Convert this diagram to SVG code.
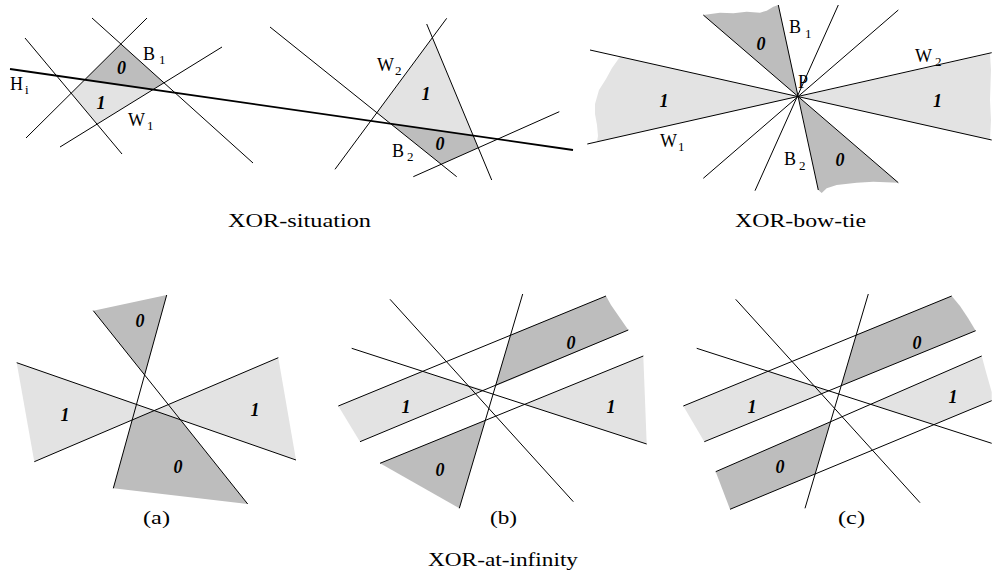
<svg xmlns="http://www.w3.org/2000/svg" width="992" height="580" viewBox="0 0 992 580">
<style>
.ln{stroke:#000;stroke-width:1;fill:none}
.hl{stroke:#000;stroke-width:1.8;fill:none}
.lt{fill:#e3e3e3}
.dk{fill:#bdbdbd}
.lb{font-family:"Liberation Serif","Times New Roman",serif;font-size:18px;fill:#000}
.sb{font-size:13px}
.num{font-family:"Liberation Serif","Times New Roman",serif;font-size:18px;font-weight:bold;font-style:italic;text-anchor:middle;fill:#000}
.cap{font-family:"Liberation Serif","Times New Roman",serif;font-size:19px;fill:#000}
</style>
<rect width="992" height="580" fill="#fff"/>

<g id="xor-situation">
  <g id="regions-situation">
    <polygon class="dk" points="120.8,43.9 164,82.8 153,89.6 84.8,79.8"/>
    <polygon class="lt" points="84.8,79.8 71.2,93.2 97,124.1 153,89.6"/>
    <polygon class="lt" points="432.4,37.7 376.9,112.7 390.7,123.8 473.2,135.6"/>
    <polygon class="dk" points="390.7,123.8 473.2,135.6 478.3,147.7 441.2,164.2"/>
  </g>
  <g id="lines-situation">
    <line class="ln" x1="25" y1="38" x2="122" y2="154"/>
    <line class="ln" x1="92" y1="18" x2="253" y2="163"/>
    <line class="ln" x1="147" y1="18" x2="26" y2="138"/>
    <line class="ln" x1="60" y1="147" x2="222" y2="47"/>
    <line class="ln" x1="270" y1="27" x2="456.7" y2="176.7"/>
    <line class="ln" x1="335" y1="169.3" x2="446.7" y2="18.3"/>
    <line class="ln" x1="426.7" y1="24" x2="491.7" y2="180"/>
    <line class="ln" x1="413.3" y1="176.7" x2="559.3" y2="111.7"/>
    <line class="hl" x1="10" y1="69" x2="573" y2="150"/>
  </g>
  <g id="labels-situation">
    <text class="lb" x="143" y="60">B<tspan class="sb" x="159" y="64">1</tspan></text>
    <text class="lb" x="10" y="90">H<tspan class="sb" x="25" y="94">i</tspan></text>
    <text class="lb" x="128" y="126">W<tspan class="sb" x="147" y="130">1</tspan></text>
    <text class="num" x="121.5" y="74">0</text>
    <text class="num" x="101" y="109">1</text>
    <text class="lb" x="377" y="71">W<tspan class="sb" x="395" y="75">2</tspan></text>
    <text class="lb" x="392" y="157">B<tspan class="sb" x="407" y="161">2</tspan></text>
    <text class="num" x="426" y="100">1</text>
    <text class="num" x="440" y="150">0</text>
  </g>
  <text class="cap" x="228" y="227" textLength="143" lengthAdjust="spacingAndGlyphs">XOR-situation</text>
</g>

<g id="xor-bow-tie">
  <g id="regions-bowtie">
    <polygon class="lt" points="798.3,96.7 620,56.8 612,68 606,79 599,90 595,104 595,114 597,125 598,136 597,141.7"/>
    <polygon class="lt" points="798.3,96.7 990,53.7 991,70 990,100 991,120 990,139.7"/>
    <polygon class="dk" points="798.3,96.7 703.3,15 720,12.7 733.3,13.3 746.7,11.7 760,12.7 766.7,10.7 773.3,6.7 778.3,5"/>
    <polygon class="dk" points="798.3,96.7 898.3,182.7 873.3,181.7 856.7,182.7 836.7,185 826.7,188.3 821.7,193 818.3,190"/>
  </g>
  <g id="lines-bowtie">
    <line class="ln" x1="703.3" y1="15" x2="898.3" y2="182.7"/>
    <line class="ln" x1="778.3" y1="5" x2="818.3" y2="190"/>
    <line class="ln" x1="590" y1="50" x2="991.7" y2="140"/>
    <line class="ln" x1="587.3" y1="144" x2="991.7" y2="52.7"/>
    <line class="ln" x1="838.3" y1="5" x2="755" y2="190.7"/>
    <line class="ln" x1="898.3" y1="10" x2="703.3" y2="178.3"/>
  </g>
  <g id="labels-bowtie">
    <text class="lb" x="789" y="33">B<tspan class="sb" x="805" y="38">1</tspan></text>
    <text class="lb" x="915" y="62">W<tspan class="sb" x="935" y="66">2</tspan></text>
    <text class="lb" x="798" y="88">P</text>
    <text class="lb" x="660" y="147">W<tspan class="sb" x="678" y="151">1</tspan></text>
    <text class="lb" x="784" y="165">B<tspan class="sb" x="799" y="170">2</tspan></text>
    <text class="num" x="761" y="50">0</text>
    <text class="num" x="664" y="107">1</text>
    <text class="num" x="937.5" y="107">1</text>
    <text class="num" x="840" y="166">0</text>
  </g>
  <text class="cap" x="735" y="227" textLength="131" lengthAdjust="spacingAndGlyphs">XOR-bow-tie</text>
</g>

<g id="xor-at-infinity-a">
  <polygon class="lt" points="16.7,362.7 154.2,410.6 34.3,461.7"/>
  <polygon class="lt" points="278.3,357.7 154.2,410.6 296,460"/>
  <polygon class="dk" points="93.3,310.7 166.7,295 144.6,375"/>
  <polygon class="dk" points="132.2,420 154.2,410.6 180.4,419.7 247.7,504 113.3,488.3"/>
  <line class="ln" x1="16.7" y1="362.7" x2="296" y2="460"/>
  <line class="ln" x1="34.3" y1="461.7" x2="278.3" y2="357.7"/>
  <line class="ln" x1="166.7" y1="295" x2="113.3" y2="488.3"/>
  <line class="ln" x1="93.3" y1="310.7" x2="247.7" y2="504"/>
  <text class="num" x="140" y="327">0</text>
  <text class="num" x="65" y="421">1</text>
  <text class="num" x="255" y="416">1</text>
  <text class="num" x="178" y="473">0</text>
  <text class="cap" x="143" y="524" textLength="27" lengthAdjust="spacingAndGlyphs">(a)</text>
</g>

<g id="xor-at-infinity-b">
  <polygon class="lt" points="338.3,406 421.7,371.3 483.3,389.6 360,441.7"/>
  <polygon class="dk" points="510.7,335 606,296 611,305 620,318 628.3,330 495.3,386.3"/>
  <polygon class="lt" points="524.6,404.4 643.3,356 645,400 646.7,444"/>
  <polygon class="dk" points="380,463.3 485.3,420.3 459.3,508.3"/>
  <line class="ln" x1="338.3" y1="406" x2="606" y2="296"/>
  <line class="ln" x1="360" y1="441.7" x2="628.3" y2="330"/>
  <line class="ln" x1="380" y1="463.3" x2="643.3" y2="356"/>
  <line class="ln" x1="390" y1="299.3" x2="573.3" y2="501.7"/>
  <line class="ln" x1="351.7" y1="348.3" x2="646.7" y2="444"/>
  <line class="ln" x1="522.7" y1="294" x2="459.3" y2="508.3"/>
  <text class="num" x="571" y="349">0</text>
  <text class="num" x="406" y="413">1</text>
  <text class="num" x="611" y="413">1</text>
  <text class="num" x="440" y="476">0</text>
  <text class="cap" x="490" y="524" textLength="27" lengthAdjust="spacingAndGlyphs">(b)</text>
</g>

<g id="xor-at-infinity-c">
  <polygon class="lt" points="683.3,406 768,371.3 828.7,390.9 704.3,441.7"/>
  <polygon class="dk" points="856.2,335.1 951.7,296 960,306 968,318 975.7,330.7 841.2,385.7"/>
  <polygon class="lt" points="870.5,404.3 981.7,356 986,372 991.7,392 991.7,400.7 933.9,424.7"/>
  <polygon class="dk" points="715.7,471.7 830.6,421.7 815.1,474 730,509.3"/>
  <line class="ln" x1="683.3" y1="406" x2="951.7" y2="296"/>
  <line class="ln" x1="704.3" y1="441.7" x2="975.7" y2="330.7"/>
  <line class="ln" x1="715.7" y1="471.7" x2="981.7" y2="356"/>
  <line class="ln" x1="730" y1="509.3" x2="991.7" y2="400.7"/>
  <line class="ln" x1="696.7" y1="348.3" x2="991.7" y2="443.3"/>
  <line class="ln" x1="735.7" y1="299.3" x2="920" y2="502.7"/>
  <line class="ln" x1="868.3" y1="294" x2="805" y2="508.3"/>
  <text class="num" x="917" y="349">0</text>
  <text class="num" x="752" y="413">1</text>
  <text class="num" x="953" y="403">1</text>
  <text class="num" x="780" y="473">0</text>
  <text class="cap" x="838" y="524" textLength="27" lengthAdjust="spacingAndGlyphs">(c)</text>
</g>

<text class="cap" x="428" y="566" textLength="150" lengthAdjust="spacingAndGlyphs">XOR-at-infinity</text>
</svg>
